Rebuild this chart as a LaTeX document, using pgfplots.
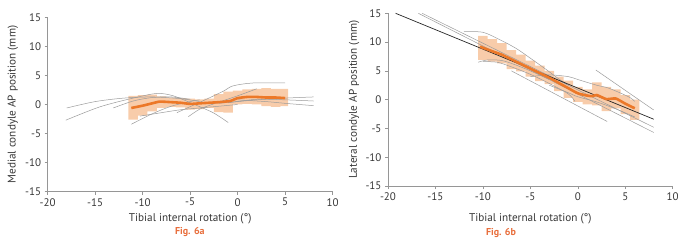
\documentclass[border=0pt]{standalone}
\usepackage{pgfplots}
\pgfplotsset{compat=1.18}
\usepackage{fontspec}
\setmainfont{PT Sans}
\definecolor{bandc}{RGB}{248,204,170}
\definecolor{meanc}{RGB}{236,120,40}
\definecolor{figc}{RGB}{232,110,60}
\definecolor{indc}{RGB}{155,155,155}
\definecolor{axc}{RGB}{150,150,150}
\definecolor{txtc}{RGB}{55,55,55}

\pgfplotsset{
  panel/.style={
    scale only axis, clip=false,
    anchor=south west,
    xmin=-20, xmax=10, ymin=-15, ymax=15,
    axis x line*=bottom, axis y line*=left,
    xtick={-20,-15,...,10}, ytick={-15,-10,...,15},
    tick align=outside, major tick length=3pt,
    axis line style={axc, line width=0.6pt},
    major tick style={axc, line width=0.6pt},
    tick label style={font=\fontsize{11}{13}\selectfont, text=txtc},
    label style={font=\fontsize{11.2}{13}\selectfont, text=txtc},
    /pgf/number format/assume math mode=true,
  },
  ind/.style={indc, line width=0.5pt, smooth},
}

\begin{document}
\begin{tikzpicture}
\useasboundingbox (0pt,0pt) rectangle (687pt,249pt);

% ---------------- Fig 6a ----------------
\begin{axis}[panel, at={(47.7pt,57.3pt)}, width=285pt, height=174.4pt,
  xlabel={Tibial internal rotation (°)},
  ylabel={Medial condyle AP position (mm)},
  xlabel style={at={(axis description cs:0.5,-0.153)}, anchor=center},
  ylabel style={at={(axis description cs:-0.122,0.5)}, anchor=center},
]
\addplot[fill=bandc, draw=none] coordinates {
(-11.5,1.5)(-10.5,1.5)(-10.5,1.6)(-9.5,1.6)(-9.5,1.7)(-8.5,1.7)(-8.5,1.4)(-7.5,1.4)(-7.5,1.2)(-6.5,1.2)(-6.5,1.1)(-5.5,1.1)(-5.5,1.0)(-4.5,1.0)(-4.5,0.9)(-3.5,0.9)(-3.5,1.0)(-2.5,1.0)(-2.5,1.8)(-1.5,1.8)(-1.5,2.2)(-0.5,2.2)(-0.5,2.4)(0.5,2.4)(0.5,2.6)(1.5,2.6)(1.5,2.7)(2.5,2.7)(2.5,2.8)(3.5,2.8)(3.5,2.7)(5.3,2.7)
(5.3,-0.3)(4.5,-0.3)(4.5,-0.4)(3.5,-0.4)(3.5,-0.3)(2.5,-0.3)(2.5,0.0)(1.5,0.0)(1.5,0.1)(0.5,0.1)(0.5,0.0)(-0.5,0.0)(-0.5,-1.4)(-1.5,-1.4)(-1.5,-1.3)(-2.5,-1.3)(-2.5,-0.6)(-3.5,-0.6)(-3.5,-0.8)(-4.5,-0.8)(-4.5,-0.9)(-5.5,-0.9)(-5.5,-0.5)(-6.5,-0.5)(-6.5,-0.4)(-7.5,-0.4)(-7.5,-0.6)(-8.5,-0.6)(-8.5,-1.2)(-9.5,-1.2)(-9.5,-1.9)(-10.5,-1.9)(-10.5,-2.6)(-11.5,-2.6)} --cycle;

\addplot[ind] coordinates {(-18,-0.6) (-15,0.5) (-12,1.1) (-9,1.3) (-6,1.0) (-4,0.5)};
\addplot[ind] coordinates {(-18.1,-2.7) (-14.5,-0.4) (-11,1.1) (-8.5,1.9) (-6.8,1.5) (-4.7,0.1) (-2.6,-1.4) (-1,-3.1)};
\addplot[ind] coordinates {(-13.1,-0.6) (-11,0.6) (-9,1.2) (-7,1.3) (-5,0.9)};
\addplot[ind] coordinates {(-11.2,-3.4) (-9,-1.6) (-7,-0.3) (-5,0.5) (-4,0.8)};
\addplot[ind] coordinates {(-10.3,-2.0) (-8,-1.4) (-6,-0.9) (-4,-0.6) (-2,-0.3) (0,0.0)};
\addplot[ind] coordinates {(-6.4,-1.4) (-4.5,0) (-3.3,0.9) (-1.5,2.3) (-0.5,3.2) (1.6,3.7) (5,3.7)};
\addplot[ind] coordinates {(-5.2,-2.1) (-4,-0.8) (-2.6,0.06) (0,1.5) (2,2.7)};
\addplot[ind] coordinates {(-2,0.2) (0,0.5) (2,0.8) (5,1.1) (8,1.3)};
\addplot[ind] coordinates {(-1,0.3) (2,0.9) (5,0.8) (8,0.6)};
\addplot[ind] coordinates {(0,0.8) (3,0.5) (5,0.2) (8,-0.2)};

\addplot[meanc, line width=2.6pt, smooth, tension=0.3] coordinates {
(-11.2,-0.6) (-10,-0.2) (-9,0.2) (-8.2,0.5) (-7,0.4) (-6,0.3) (-5,0.1) (-4,0.2) (-3,0.3) (-2,0.4) (-0.8,0.6) (0,1.1) (1,1.3) (2,1.3) (3,1.2) (4,1.2) (5,1.1)};

\node[font=\bfseries\fontsize{10}{12}\selectfont, text=figc] at (axis description cs:0.499,-0.231) {Fig. 6a};
\end{axis}

% ---------------- Fig 6b ----------------
\begin{axis}[panel, at={(388pt,63pt)}, width=284.7pt, height=172.7pt,
  xlabel={Tibial internal rotation (°)},
  ylabel={Lateral condyle AP position (mm)},
  xlabel style={at={(axis description cs:0.5,-0.187)}, anchor=center},
  ylabel style={at={(axis description cs:-0.119,0.5)}, anchor=center},
]
\addplot[fill=bandc, draw=none] coordinates {
(-10.5,11.1)(-9.5,11.1)(-9.5,10.5)(-8.5,10.5)(-8.5,9.8)(-7.5,9.8)(-7.5,8.6)(-6.5,8.6)(-6.5,7.8)(-5.5,7.8)(-5.5,6.8)(-4.5,6.8)(-4.5,5.9)(-3.5,5.9)(-3.5,5.0)(-2.5,5.0)(-2.5,4.0)(-1.5,4.0)(-1.5,3.3)(-0.5,3.3)(-0.5,2.2)(0.5,2.2)(0.5,1.8)(1.5,1.8)(1.5,3.0)(2.5,3.0)(2.5,2.2)(3.5,2.2)(3.5,1.8)(4.5,1.8)(4.5,0.8)(5.5,0.8)(5.5,0.0)(6.5,0.0)
(6.5,-3.5)(5.5,-3.5)(5.5,-2.5)(4.5,-2.5)(4.5,-1.5)(3.5,-1.5)(3.5,-2.0)(2.5,-2.0)(2.5,-1.0)(1.5,-1.0)(1.5,-0.8)(0.5,-0.8)(0.5,-0.4)(-0.5,-0.4)(-0.5,0.3)(-1.5,0.3)(-1.5,1.5)(-2.5,1.5)(-2.5,2.7)(-3.5,2.7)(-3.5,3.2)(-4.5,3.2)(-4.5,4.0)(-5.5,4.0)(-5.5,4.9)(-6.5,4.9)(-6.5,5.3)(-7.5,5.3)(-7.5,6.3)(-8.5,6.3)(-8.5,6.6)(-9.5,6.6)(-9.5,6.9)(-10.5,6.9)} --cycle;

\addplot[ind, sharp plot] coordinates {(-16.8,15) (8,-5.7)};
\addplot[ind, sharp plot] coordinates {(-16.4,15) (8,-4.8)};
\addplot[ind, sharp plot] coordinates {(-7,5.0) (3.1,-3.8)};
\addplot[ind, sharp plot] coordinates {(1.9,5.15) (8,-1.8)};
\addplot[ind] coordinates {(-12,11.8) (-10,11.7) (-8.2,10.4) (-6.5,8.9) (-5,7.2) (-3.3,5.2) (-2,3.6) (-1,2.5)};
\addplot[ind] coordinates {(-10.5,6.5) (-9.5,6.9) (-8,6.8) (-6.5,6.0) (-5,5.0) (-3,3.5)};
\addplot[ind] coordinates {(-10,6.6) (-8.5,6.5) (-7,5.7) (-5,4.4) (-3,2.8) (-1,1.0) (-0.3,-0.3)};
\addplot[ind] coordinates {(-5,4.0) (-3,4.3) (-1,4.0) (0,3.5) (2,2.5) (3.25,2.0) (5.35,0.5) (6,-0.3)};
\addplot[ind] coordinates {(-3,2.5) (-1,1.2) (0,0.5) (2,-0.4) (4,-1.6) (6,-3.0)};

\addplot[black!85, line width=0.7pt, sharp plot] coordinates {(-19.2,15) (8,-3.4)};

\addplot[meanc, line width=2.6pt, smooth, tension=0.3] coordinates {
(-10.3,9.2) (-9,8.4) (-8,7.8) (-7,7.0) (-6,6.2) (-5,5.4) (-4,4.6) (-3,3.8) (-2,2.9) (-1,2.0) (0,1.1) (1,0.7) (1.5,0.6) (2,0.8) (3,0.1) (4,0.2) (5,-0.7) (6,-1.5)};

\node[font=\bfseries\fontsize{10}{12}\selectfont, text=figc] at (axis description cs:0.397,-0.272) {Fig. 6b};
\end{axis}
\end{tikzpicture}
\end{document}
